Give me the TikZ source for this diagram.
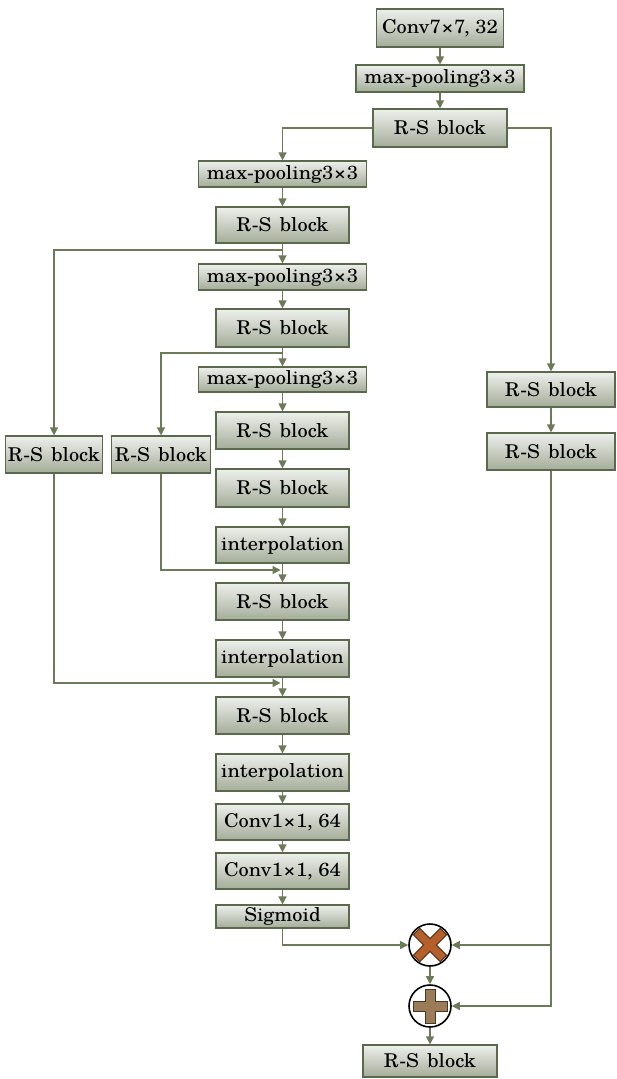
\documentclass[tikz,border=0pt]{standalone}
\usepackage{fontspec}
\setmainfont{TeX Gyre Schola}
\usepackage{graphicx}
\usetikzlibrary{arrows.meta}
\definecolor{edge}{HTML}{6B7A58}
\definecolor{bord}{HTML}{5A684C}
\definecolor{topc}{HTML}{EEF0EC}
\definecolor{botc}{HTML}{A4AC99}
\definecolor{xcol}{HTML}{B5602B}
\definecolor{xdark}{HTML}{5A3418}
\definecolor{pcol}{HTML}{9C7B58}
\definecolor{pdark}{HTML}{4A3826}
\newcommand{\lbl}[1]{\scalebox{1.07}[1]{#1}}
\newcommand{\tms}{\kern0.5pt×\kern0.5pt}
\newcommand{\rsb}{\lbl{R-S\hspace{0.42em}block}}
\begin{document}
\begin{tikzpicture}[x=1pt,y=1pt,
  box/.style={draw=bord, line width=1.2pt, top color=topc, bottom color=botc,
    inner sep=0pt, font=\fontsize{19}{19}\selectfont, anchor=center},
  flow/.style={draw=edge, line width=1.3pt, -{Triangle[length=8pt,width=8pt]}},
  sym/.style={circle, draw=black, line width=1.6pt, fill=white, minimum size=42pt, inner sep=0pt}]
\useasboundingbox (0,0) rectangle (616,-1079);
\fill[white] (0,0) rectangle (616,-1079);

% top column
\node[box, minimum width=127, minimum height=38] (conv7) at (440,-28) {\lbl{Conv7\tms7, 32}};
\node[box, minimum width=168, minimum height=27] (mp1) at (440,-78.5) {\lbl{max-pooling3\tms3}};
\node[box, minimum width=134, minimum height=38] (rs1) at (440,-128) {\rsb};

% main column
\node[box, minimum width=168, minimum height=26] (mp2) at (282.5,-174) {\lbl{max-pooling3\tms3}};
\node[box, minimum width=133, minimum height=36] (rs2) at (282.5,-225) {\rsb};
\node[box, minimum width=168, minimum height=26] (mp3) at (282.5,-277) {\lbl{max-pooling3\tms3}};
\node[box, minimum width=133, minimum height=38] (rs3) at (282.5,-328) {\rsb};
\node[box, minimum width=168, minimum height=25] (mp4) at (282.5,-379.5) {\lbl{max-pooling3\tms3}};
\node[box, minimum width=133, minimum height=37] (rs4) at (282.5,-430.5) {\rsb};
\node[box, minimum width=133, minimum height=38] (rs5) at (282.5,-488) {\rsb};
\node[box, minimum width=133, minimum height=36] (ip1) at (282.5,-545) {\lbl{interpolation}};
\node[box, minimum width=133, minimum height=37] (rs6) at (282.5,-601.5) {\rsb};
\node[box, minimum width=133, minimum height=37] (ip2) at (282.5,-658.5) {\lbl{interpolation}};
\node[box, minimum width=133, minimum height=37] (rs7) at (282.5,-715.5) {\rsb};
\node[box, minimum width=133, minimum height=37] (ip3) at (282.5,-772.5) {\lbl{interpolation}};
\node[box, minimum width=133, minimum height=36] (c1a) at (282.5,-822) {\lbl{Conv1\tms1, 64}};
\node[box, minimum width=133, minimum height=36] (c1b) at (282.5,-871) {\lbl{Conv1\tms1, 64}};
\node[box, minimum width=133, minimum height=23] (sig) at (282.5,-916.5) {\lbl{Sigmoid}};

% left branch boxes
\node[box, minimum width=97, minimum height=37] (L1) at (54,-454.5) {\rsb};
\node[box, minimum width=99, minimum height=37] (L2) at (161,-454.5) {\rsb};

% right branch boxes
\node[box, minimum width=128, minimum height=35] (R1) at (551,-389.5) {\rsb};
\node[box, minimum width=128, minimum height=37] (R2) at (551,-451.5) {\rsb};

% fusion
\node[sym] (mult) at (430,-945) {};
\node[sym] (plus) at (430,-1006) {};
\node[box, minimum width=134, minimum height=32] (out) at (430,-1061) {\rsb};

\begin{scope}[shift={(mult.center)}, rotate=45]
  \filldraw[fill=xcol, draw=xdark, line width=1pt]
    (-4.5,19) -- (4.5,19) -- (4.5,4.5) -- (19,4.5) -- (19,-4.5) -- (4.5,-4.5)
    -- (4.5,-19) -- (-4.5,-19) -- (-4.5,-4.5) -- (-19,-4.5) -- (-19,4.5) -- (-4.5,4.5) -- cycle;
\end{scope}
\begin{scope}[shift={(plus.center)}]
  \filldraw[fill=pcol, draw=pdark, line width=1pt]
    (-5,17) -- (5,17) -- (5,5) -- (17,5) -- (17,-5) -- (5,-5)
    -- (5,-17) -- (-5,-17) -- (-5,-5) -- (-17,-5) -- (-17,5) -- (-5,5) -- cycle;
\end{scope}

% coordinates
\coordinate (j1) at (280.5,-570);
\coordinate (j2) at (280.5,-683);
\coordinate (s1) at (282.5,-250);
\coordinate (s2) at (282.5,-353);

% connectors
\draw[flow] (conv7) -- (mp1);
\draw[flow] (mp1) -- (rs1);
\draw[flow] (rs1.west) -| (mp2.north);
\draw[flow] (rs1.east) -| (R1.north);
\draw[flow] (R1) -- (R2);
\draw[flow] (R2.south) |- (plus.east);
\draw[flow] (R2.south |- mult.east) -- (mult.east);

\draw[flow] (mp2) -- (rs2);
\draw[flow] (rs2) -- (mp3);
\draw[flow] (s1) -| (L1.north);
\draw[flow] (mp3) -- (rs3);
\draw[flow] (rs3) -- (mp4);
\draw[flow] (s2) -| (L2.north);
\draw[flow] (mp4) -- (rs4);
\draw[flow] (rs4) -- (rs5);
\draw[flow] (rs5) -- (ip1);
\draw[flow] (ip1) -- (rs6);
\draw[flow] (L2.south) |- (j1);
\draw[flow] (rs6) -- (ip2);
\draw[flow] (ip2) -- (rs7);
\draw[flow] (L1.south) |- (j2);
\draw[flow] (rs7) -- (ip3);
\draw[flow] (ip3) -- (c1a);
\draw[flow] (c1a) -- (c1b);
\draw[flow] (c1b) -- (sig);
\draw[flow] (sig.south) |- (mult.west);
\draw[flow] (mult) -- (plus);
\draw[flow] (plus) -- (out);
\end{tikzpicture}
\end{document}
